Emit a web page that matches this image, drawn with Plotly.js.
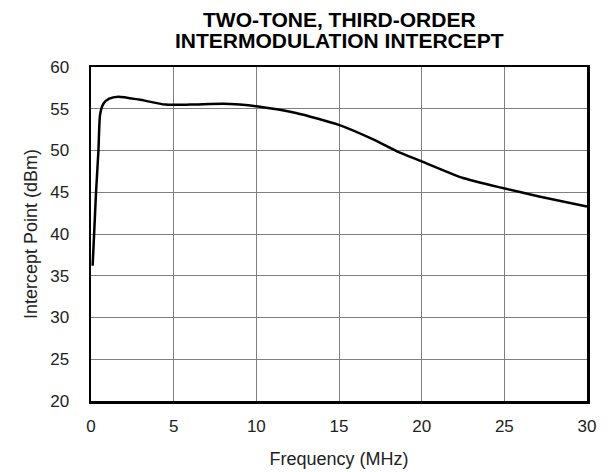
<!DOCTYPE html>
<html>
<head>
<meta charset="utf-8">
<script src="https://cdn.plot.ly/plotly-3.0.1.min.js"></script>
<style>html,body{margin:0;padding:0;background:#fff;}#chart{width:616px;height:472px;}</style>
</head>
<body>
<div id="chart"></div>
<script>
const frequencyMHz = [0.1, 0.2, 0.3, 0.45, 0.55, 0.75, 1.1, 1.65, 2.9, 4.5, 6.0, 8.0, 9.0, 10.0, 12.4, 14.95, 17.1, 18.5, 20.0, 22.5, 24.9, 27.1, 30.0];
const interceptDBm = [36.2, 40.5, 44.8, 50.0, 54.3, 55.6, 56.2, 56.45, 56.1, 55.5, 55.5, 55.6, 55.5, 55.3, 54.5, 53.1, 51.3, 49.9, 48.7, 46.7, 45.5, 44.5, 43.3];
const xTicks = [0, 5, 10, 15, 20, 25, 30];
const yTicks = [20, 25, 30, 35, 40, 45, 50, 55, 60];
const titleLines = ['TWO-TONE, THIRD-ORDER', 'INTERMODULATION INTERCEPT'];

const font = "Liberation Sans, Arial, Helvetica, sans-serif";
const titleShifts = [34, 13];
Plotly.newPlot('chart', [{
  x: frequencyMHz, y: interceptDBm, type: 'scatter', mode: 'lines',
  line: {color: '#000', width: 2.5, shape: 'spline', smoothing: 0.6},
  hoverinfo: 'skip'
}], {
  width: 616, height: 472,
  margin: {l: 91, r: 29, t: 67, b: 71},
  paper_bgcolor: '#fff', plot_bgcolor: '#fff',
  showlegend: false,
  annotations: titleLines.map((t, i) => ({
    text: '<b>' + t + '</b>',
    xref: 'paper', yref: 'paper', x: 0.5, y: 1, xanchor: 'center', yanchor: 'bottom',
    yshift: titleShifts[i], showarrow: false,
    font: {family: font, size: 21, color: '#000'}
  })),
  xaxis: {
    range: [0, 30], tickvals: xTicks, ticktext: xTicks.map(String),
    showgrid: true, gridcolor: '#808080', gridwidth: 1,
    showline: true, mirror: true, linecolor: '#000', linewidth: 2.5,
    zeroline: false, ticks: '', ticklen: 0, ticklabelstandoff: 8,
    tickfont: {family: font, size: 17, color: '#222'},
    title: {text: 'Frequency (MHz)', font: {family: font, size: 18, color: '#222'}, standoff: 18}
  },
  yaxis: {
    range: [20, 60], tickvals: yTicks, ticktext: yTicks.map(String),
    showgrid: true, gridcolor: '#808080', gridwidth: 1,
    showline: true, mirror: true, linecolor: '#000', linewidth: 2.5,
    zeroline: false, ticks: '', ticklen: 0, ticklabelstandoff: 16,
    tickfont: {family: font, size: 17, color: '#222'},
    title: {text: 'Intercept Point (dBm)', font: {family: font, size: 18, color: '#222'}, standoff: 8}
  }
}, {displayModeBar: false, staticPlot: true});
</script>
</body>
</html>
